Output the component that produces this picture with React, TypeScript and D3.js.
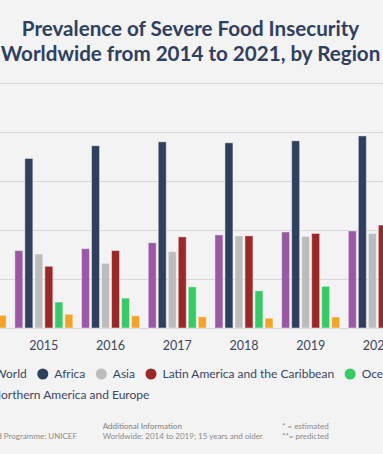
import React, { useEffect, useRef } from "react";
import * as d3 from "d3";

const years = ["2014", "2015", "2016", "2017", "2018", "2019", "2020", "2021"];
const seriesNames = [
  "World",
  "Africa",
  "Asia",
  "Latin America and the Caribbean",
  "Oceania",
  "Northern America and Europe",
];
const seriesColors = ["#9b58a6", "#2f405f", "#bcbcbc", "#9b2829", "#38ca66", "#f4a328"];
const world = [7.7, 7.9, 8.1, 8.7, 9.5, 9.8, 9.9, 11.7];
const africa = [16.8, 17.3, 18.6, 19.0, 18.9, 19.1, 19.6, 23.4];
const asia = [7.2, 7.55, 6.6, 7.8, 9.4, 9.35, 9.65, 10.5];
const latinAmerica = [5.5, 6.3, 7.9, 9.3, 9.4, 9.65, 10.5, 14.2];
const oceania = [2.4, 2.65, 3.05, 4.2, 3.8, 4.25, 4.5, 4.6];
const northAmericaEurope = [1.3, 1.4, 1.25, 1.15, 1.0, 1.12, 1.4, 1.5];
const seriesValues = [world, africa, asia, latinAmerica, oceania, northAmericaEurope];
const yTicks = [0, 5, 10, 15, 20, 25];

const W = 383;
const H = 454;
const FONT = "Lato, 'Open Sans', sans-serif";

export default function App() {
  const ref = useRef<SVGSVGElement | null>(null);

  useEffect(() => {
    const svg = d3.select(ref.current);
    svg.selectAll("*").remove();

    svg.append("rect").attr("width", W).attr("height", H).attr("fill", "#f3f3f3");

    // Title
    const title = svg
      .append("text")
      .attr("x", 190.5)
      .attr("text-anchor", "middle")
      .attr("font-family", FONT)
      .attr("font-weight", 700)
      .attr("font-size", 20.6)
      .attr("fill", "#2f405f");
    title.append("tspan").attr("x", 190.5).attr("y", 36).text("Prevalence of Severe Food Insecurity");
    title.append("tspan").attr("x", 190.5).attr("y", 60.5).text("Worldwide from 2014 to 2021, by Region");

    const y = d3.scaleLinear().domain([0, 25]).range([328, 83]);
    const x0 = d3
      .scaleBand<string>()
      .domain(years)
      .range([-56.2, 477.4])
      .paddingInner(0.1)
      .paddingOuter(0.05);
    const x1 = d3
      .scaleBand<string>()
      .domain(seriesNames)
      .range([0, x0.bandwidth()])
      .paddingInner(0.1)
      .paddingOuter(0.05);

    // gridlines
    svg
      .append("g")
      .selectAll("line")
      .data(yTicks)
      .join("line")
      .attr("x1", 0)
      .attr("x2", W)
      .attr("y1", (d) => Math.round(y(d)) + 0.5)
      .attr("y2", (d) => Math.round(y(d)) + 0.5)
      .attr("stroke", "#d6d6db")
      .attr("stroke-width", 1.2);

    // bars
    const groups = svg
      .append("g")
      .selectAll("g")
      .data(years)
      .join("g")
      .attr("transform", (d) => `translate(${x0(d)},0)`);

    groups
      .selectAll("rect")
      .data((yr) => seriesNames.map((s, k) => ({ s, k, v: seriesValues[k][years.indexOf(yr)] })))
      .join("rect")
      .attr("x", (d) => (x1(d.s) as number) + 0.5)
      .attr("width", x1.bandwidth() - 1)
      .attr("y", (d) => y(d.v))
      .attr("height", (d) => y(0) - y(d.v))
      .attr("fill", (d) => seriesColors[d.k])
      .attr("stroke", "#ffffff")
      .attr("stroke-opacity", 0.45)
      .attr("stroke-width", 1);

    // x labels
    svg
      .append("g")
      .selectAll("text")
      .data(years)
      .join("text")
      .attr("x", (d) => (x0(d) as number) + x0.bandwidth() / 2)
      .attr("y", 349.5)
      .attr("text-anchor", "middle")
      .attr("font-family", FONT)
      .attr("font-size", 12.5)
      .attr("fill", "#3a475f")
      .text((d) => d);

    // legend
    const legend = svg.append("g").attr("font-family", FONT).attr("font-size", 12);
    const rows = [seriesNames.slice(0, 5), seriesNames.slice(5)];
    const rowY = [374, 395];
    const rowStart = [-17.2, -19.5];
    rows.forEach((row, ri) => {
      let cx = rowStart[ri];
      row.forEach((name) => {
        const k = seriesNames.indexOf(name);
        legend
          .append("circle")
          .attr("cx", cx)
          .attr("cy", rowY[ri])
          .attr("r", 5.5)
          .attr("fill", seriesColors[k]);
        const t = legend
          .append("text")
          .attr("x", cx + 11.5)
          .attr("y", rowY[ri] + 4.3)
          .attr("fill", "#3a475f")
          .text(name);
        const w = (t.node() as SVGTextElement).getComputedTextLength();
        cx = cx + 11.5 + w + 16;
      });
    });

    // footer
    const foot = svg.append("g").attr("font-family", FONT).attr("font-size", 8).attr("fill", "#8a8a8a");
    foot
      .append("text")
      .attr("x", 77)
      .attr("y", 439)
      .attr("text-anchor", "end")
      .text("FAO; IFAD; WHO; World Food Programme: UNICEF");
    foot.append("text").attr("x", 102.7).attr("y", 429).attr("fill", "#7d7d7d").text("Additional Information");
    foot.append("text").attr("x", 102.7).attr("y", 439).text("Worldwide: 2014 to 2019; 15 years and older");
    foot.append("text").attr("x", 282).attr("y", 429).text("* = estimated");
    foot.append("text").attr("x", 282).attr("y", 439).text("**= predicted");
  }, []);

  return (
    <svg
      ref={ref}
      width={W}
      height={H}
      style={{ position: "fixed", left: 0, top: 0, display: "block" }}
    />
  );
}
